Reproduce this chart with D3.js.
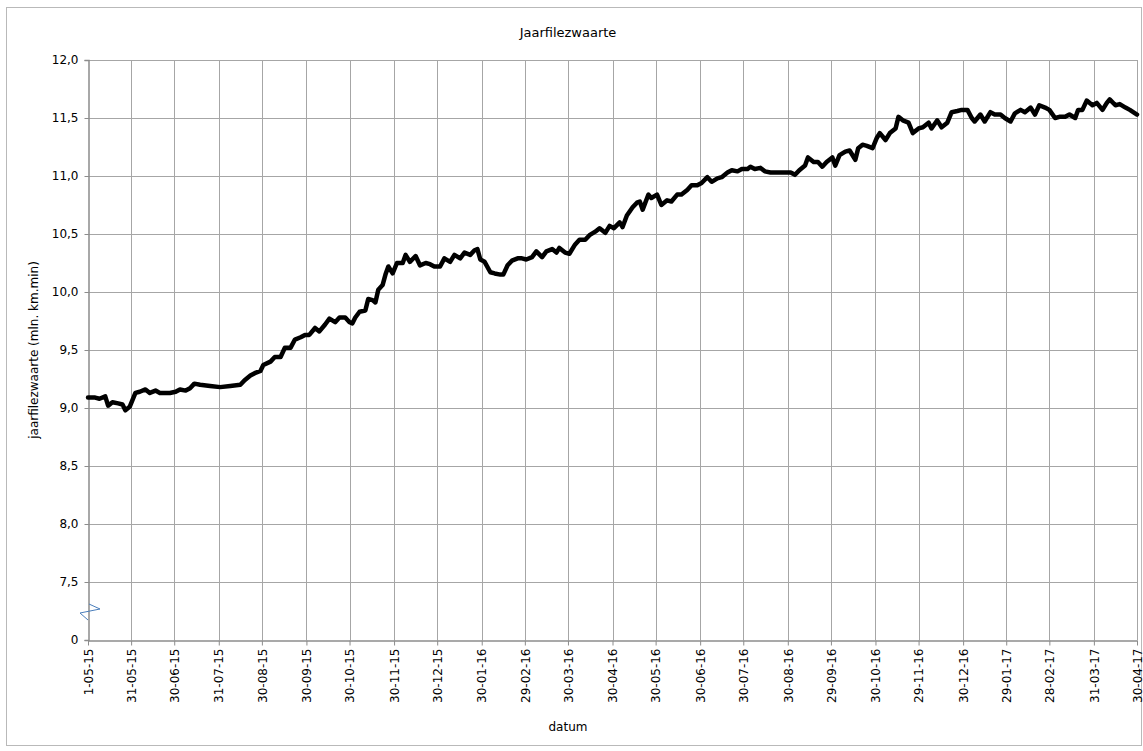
<!DOCTYPE html>
<html>
<head>
<meta charset="utf-8">
<script src="https://cdn.jsdelivr.net/npm/d3@7"></script>
<style>
    body { margin: 0; background: #fff; }
    text { font-family: "DejaVu Sans", Verdana, sans-serif; fill: #000; }
</style>
</head>
<body>
<svg id="chart" width="1143" height="751"></svg>
<script>
const titel = 'Jaarfilezwaarte'
const yLabel = 'jaarfilezwaarte (mln. km.min)'
const xLabel = 'datum'

// ticks on the date axis, as printed
const tickDatums = ['2015-05-01','2015-05-31','2015-06-30','2015-07-31','2015-08-30','2015-09-30','2015-10-30',
    '2015-11-30','2015-12-30','2016-01-30','2016-02-29','2016-03-30','2016-04-30','2016-05-30','2016-06-30',
    '2016-07-30','2016-08-30','2016-09-29','2016-10-30','2016-11-29','2016-12-30','2017-01-29','2017-02-28',
    '2017-03-31','2017-04-30']

const yTicks = [7, 7.5, 8, 8.5, 9, 9.5, 10, 10.5, 11, 11.5, 12]
const yTickLabels = ['0', '7,5', '8,0', '8,5', '9,0', '9,5', '10,0', '10,5', '11,0', '11,5', '12,0']

// rolling year total
const datums = [
    '2015-05-01','2015-05-06','2015-05-09','2015-05-13','2015-05-15','2015-05-18','2015-05-22','2015-05-25','2015-05-27','2015-05-30',
    '2015-06-03','2015-06-06','2015-06-10','2015-06-13','2015-06-17','2015-06-20','2015-06-24','2015-06-27','2015-07-01','2015-07-04',
    '2015-07-08','2015-07-11','2015-07-14','2015-07-18','2015-07-25','2015-08-01','2015-08-08','2015-08-15','2015-08-18','2015-08-22',
    '2015-08-25','2015-08-29','2015-08-31','2015-09-05','2015-09-08','2015-09-12','2015-09-15','2015-09-19','2015-09-22','2015-09-26',
    '2015-09-29','2015-10-02','2015-10-06','2015-10-09','2015-10-13','2015-10-16','2015-10-20','2015-10-23','2015-10-27','2015-10-30',
    '2015-11-01','2015-11-03','2015-11-06','2015-11-10','2015-11-12','2015-11-15','2015-11-17','2015-11-19','2015-11-22','2015-11-24',
    '2015-11-26','2015-11-29','2015-12-02','2015-12-06','2015-12-08','2015-12-11','2015-12-15','2015-12-18','2015-12-22','2015-12-25',
    '2015-12-28','2016-01-01','2016-01-04','2016-01-08','2016-01-11','2016-01-15','2016-01-18','2016-01-22','2016-01-25','2016-01-27',
    '2016-01-29','2016-02-01','2016-02-05','2016-02-08','2016-02-12','2016-02-14','2016-02-17','2016-02-20','2016-02-24','2016-02-27',
    '2016-03-01','2016-03-05','2016-03-08','2016-03-12','2016-03-15','2016-03-19','2016-03-22','2016-03-24','2016-03-28','2016-03-31',
    '2016-04-04','2016-04-07','2016-04-11','2016-04-14','2016-04-18','2016-04-21','2016-04-25','2016-04-28','2016-05-01','2016-05-05',
    '2016-05-07','2016-05-10','2016-05-14','2016-05-17','2016-05-19','2016-05-21','2016-05-25','2016-05-27','2016-05-31','2016-06-03',
    '2016-06-07','2016-06-10','2016-06-14','2016-06-17','2016-06-21','2016-06-24','2016-06-28','2016-07-01','2016-07-05','2016-07-08',
    '2016-07-12','2016-07-15','2016-07-19','2016-07-22','2016-07-26','2016-07-29','2016-08-02','2016-08-04','2016-08-07','2016-08-11',
    '2016-08-14','2016-08-18','2016-08-21','2016-08-25','2016-08-28','2016-09-01','2016-09-04','2016-09-07','2016-09-11','2016-09-13',
    '2016-09-17','2016-09-20','2016-09-23','2016-09-26','2016-09-30','2016-10-02','2016-10-05','2016-10-09','2016-10-12','2016-10-16',
    '2016-10-18','2016-10-21','2016-10-24','2016-10-28','2016-10-31','2016-11-02','2016-11-06','2016-11-09','2016-11-13','2016-11-15',
    '2016-11-18','2016-11-22','2016-11-25','2016-11-29','2016-12-02','2016-12-06','2016-12-08','2016-12-12','2016-12-15','2016-12-19',
    '2016-12-22','2016-12-26','2016-12-29','2017-01-02','2017-01-05','2017-01-07','2017-01-11','2017-01-14','2017-01-18','2017-01-21',
    '2017-01-25','2017-01-28','2017-02-01','2017-02-04','2017-02-08','2017-02-11','2017-02-15','2017-02-18','2017-02-21','2017-02-25',
    '2017-02-28','2017-03-04','2017-03-07','2017-03-11','2017-03-14','2017-03-18','2017-03-20','2017-03-23','2017-03-26','2017-03-30',
    '2017-04-02','2017-04-06','2017-04-09','2017-04-11','2017-04-15','2017-04-18','2017-04-22','2017-04-25','2017-04-30'
]
const waarden = [
    9.09, 9.09, 9.08, 9.10, 9.02, 9.05, 9.04, 9.03, 8.98, 9.01,
    9.13, 9.14, 9.16, 9.13, 9.15, 9.13, 9.13, 9.13, 9.14, 9.16,
    9.15, 9.17, 9.21, 9.20, 9.19, 9.18, 9.19, 9.20, 9.24, 9.28,
    9.30, 9.32, 9.37, 9.40, 9.44, 9.44, 9.52, 9.52, 9.59, 9.61,
    9.63, 9.63, 9.69, 9.66, 9.72, 9.77, 9.74, 9.78, 9.78, 9.74,
    9.73, 9.78, 9.83, 9.84, 9.94, 9.93, 9.91, 10.02, 10.06, 10.15,
    10.22, 10.16, 10.25, 10.25, 10.32, 10.26, 10.31, 10.23, 10.25, 10.24,
    10.22, 10.22, 10.29, 10.26, 10.32, 10.29, 10.34, 10.32, 10.36, 10.37,
    10.28, 10.26, 10.17, 10.16, 10.15, 10.15, 10.23, 10.27, 10.29, 10.29,
    10.28, 10.30, 10.35, 10.30, 10.35, 10.37, 10.34, 10.38, 10.34, 10.33,
    10.41, 10.45, 10.45, 10.49, 10.52, 10.55, 10.51, 10.57, 10.55, 10.60,
    10.56, 10.66, 10.73, 10.77, 10.78, 10.71, 10.84, 10.81, 10.84, 10.75,
    10.79, 10.78, 10.84, 10.84, 10.88, 10.92, 10.92, 10.94, 10.99, 10.95,
    10.98, 10.99, 11.03, 11.05, 11.04, 11.06, 11.06, 11.08, 11.06, 11.07,
    11.04, 11.03, 11.03, 11.03, 11.03, 11.03, 11.01, 11.05, 11.09, 11.16,
    11.12, 11.12, 11.08, 11.12, 11.16, 11.09, 11.18, 11.21, 11.22, 11.14,
    11.24, 11.27, 11.26, 11.24, 11.33, 11.37, 11.31, 11.37, 11.41, 11.51,
    11.48, 11.46, 11.37, 11.41, 11.42, 11.46, 11.41, 11.48, 11.42, 11.46,
    11.55, 11.56, 11.57, 11.57, 11.50, 11.47, 11.53, 11.47, 11.55, 11.53,
    11.53, 11.50, 11.47, 11.54, 11.57, 11.55, 11.59, 11.53, 11.61, 11.59,
    11.57, 11.50, 11.51, 11.51, 11.53, 11.50, 11.57, 11.57, 11.65, 11.61,
    11.63, 11.57, 11.63, 11.66, 11.61, 11.62, 11.59, 11.57, 11.53
]

const parseDate = d3.timeParse('%Y-%m-%d')
const fmtTick = d3.timeFormat('%-d-%m-%y')

const data = datums.map((d, i) => ({datum: parseDate(d), waarde: waarden[i]}))

const plot = {left: 88, right: 1137, top: 60, bottom: 640}
const midX = 568 // centre of the chart frame
const svg = d3.select('#chart')

// outer chart frame
svg.append('rect')
    .attr('x', 6.5).attr('y', 7.5)
    .attr('width', 1135).attr('height', 738)
    .attr('fill', '#fff')
    .attr('stroke', '#b9b9b9')

const x = d3.scaleTime()
    .domain([parseDate(tickDatums[0]), parseDate(tickDatums[tickDatums.length - 1])])
    .range([plot.left, plot.right])

const y = d3.scaleLinear()
    .domain([7, 12])
    .range([plot.bottom, plot.top])

// grid
svg.append('g')
    .selectAll('line')
    .data(yTicks.slice(1))
    .enter()
        .append('line')
        .attr('x1', plot.left).attr('x2', plot.right)
        .attr('y1', d => Math.round(y(d)) + 0.5).attr('y2', d => Math.round(y(d)) + 0.5)
        .attr('stroke', '#a6a6a6')

svg.append('g')
    .selectAll('line')
    .data(tickDatums.slice(1))
    .enter()
        .append('line')
        .attr('x1', d => Math.round(x(parseDate(d))) + 0.5).attr('x2', d => Math.round(x(parseDate(d))) + 0.5)
        .attr('y1', plot.top).attr('y2', plot.bottom)
        .attr('stroke', '#a6a6a6')

// y axis
const yAxis = d3.axisLeft(y)
    .tickValues(yTicks)
    .tickFormat((d, i) => yTickLabels[i])
    .tickSize(4)
    .tickPadding(6)

const gy = svg.append('g')
    .attr('transform', `translate(${plot.left + 0.5},0)`)
    .call(yAxis)
gy.select('.domain').attr('stroke', '#8c8c8c').attr('stroke-width', 1.5)
gy.selectAll('.tick line').attr('stroke', '#8c8c8c')
gy.selectAll('.tick text').style('font-size', '12px').attr('fill', '#000')

// x axis
const xAxis = d3.axisBottom(x)
    .tickValues(tickDatums.map(parseDate))
    .tickFormat(fmtTick)
    .tickSize(5)
    .tickSizeOuter(0)

const gx = svg.append('g')
    .attr('transform', `translate(0,${plot.bottom + 0.5})`)
    .call(xAxis)
gx.select('.domain').attr('stroke', '#8c8c8c').attr('stroke-width', 1.5)
gx.selectAll('.tick line').attr('stroke', '#8c8c8c')
gx.selectAll('.tick text')
    .style('font-size', '12px')
    .attr('fill', '#000')
    .attr('transform', 'rotate(-90)')
    .attr('text-anchor', 'end')
    .attr('x', -8)
    .attr('y', 0)
    .attr('dy', '0.35em')

// axis break mark
svg.append('polyline')
    .attr('points', [[89, 604], [100, 609], [80, 613], [88, 620]].map(p => p.join(',')).join(' '))
    .attr('fill', 'none')
    .attr('stroke', '#4a7ebb')
    .attr('stroke-width', 1)

// the series
const line = d3.line()
    .x(d => x(d.datum))
    .y(d => y(d.waarde))

svg.append('path')
    .datum(data)
    .attr('d', line)
    .attr('fill', 'none')
    .attr('stroke', '#000')
    .attr('stroke-width', 4.5)
    .attr('stroke-linejoin', 'round')
    .attr('stroke-linecap', 'round')

// labels
svg.append('text')
    .attr('x', midX)
    .attr('y', 37)
    .attr('text-anchor', 'middle')
    .style('font-size', '13px')
    .text(titel)

svg.append('text')
    .attr('transform', `translate(38,${(plot.top + plot.bottom) / 2}) rotate(-90)`)
    .attr('text-anchor', 'middle')
    .style('font-size', '12px')
    .text(yLabel)

svg.append('text')
    .attr('x', midX)
    .attr('y', 731)
    .attr('text-anchor', 'middle')
    .style('font-size', '12px')
    .text(xLabel)
</script>
</body>
</html>
